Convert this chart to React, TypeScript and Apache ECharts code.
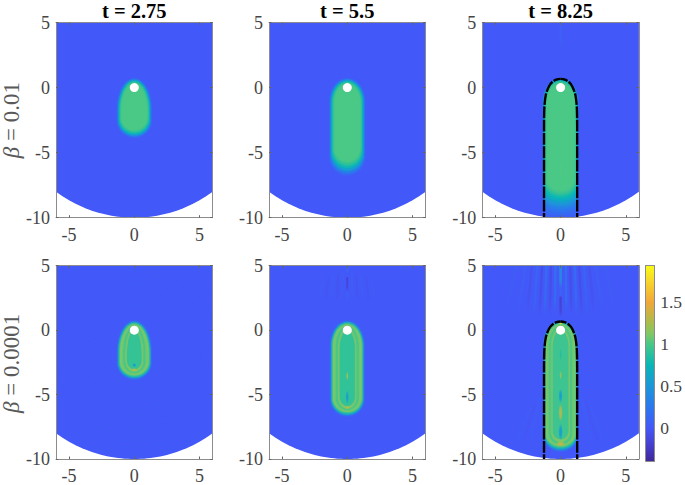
import React, { useEffect, useRef } from "react";
import * as echarts from "echarts";

const FONT = "Liberation Serif";
const titles = ["t = 2.75", "t = 5.5", "t = 8.25"];
const rowNames = ["{b|β}{n| = 0.01}", "{b|β}{n| = 0.0001}"];
const xTicks = [-5, 0, 5];
const colorbarTicks = [0, 0.5, 1, 1.5];
const domainRadius = 10;
const sourcePoint = [[0, 0]];

// colour map: value, hex
const colorStops: [number, string][] = [
  [-0.4, "#40289a"], [-0.2, "#4640d0"], [0, "#4358f8"], [0.25, "#2b78ee"], [0.5, "#1c97d8"],
  [0.75, "#0ab6b6"], [1.0, "#48c886"], [1.12, "#80c866"], [1.25, "#a8bd4c"], [1.5, "#f0a73a"], [1.75, "#f8d52c"], [1.94, "#f9fb15"],
];
const colorbarRange = [-0.4, 1.94];

// nested contours: value, half width, top y, bottom y, top cap height, bottom cap height
const ringsA = [
  [0.12, 1.3, 0.68, -3.82, 2.3, 1.25], [0.3, 1.25, 0.62, -3.74, 2.3, 1.22], [0.55, 1.2, 0.56, -3.66, 2.25, 1.18],
  [0.75, 1.14, 0.5, -3.56, 2.2, 1.14], [0.9, 1.08, 0.42, -3.44, 2.15, 1.08], [1.0, 1.0, 0.33, -3.3, 2.1, 1.0],
];
const ringsB = [
  [0.1, 1.33, 0.68, -6.75, 1.7, 1.4], [0.3, 1.28, 0.62, -6.58, 1.7, 1.35], [0.55, 1.22, 0.55, -6.38, 1.65, 1.3],
  [0.75, 1.16, 0.48, -6.18, 1.6, 1.25], [0.9, 1.09, 0.4, -5.98, 1.55, 1.2], [1.0, 1.0, 0.3, -5.75, 1.5, 1.1],
];
const ringsC = [
  [0.06, 1.27, 0.66, -10.1, 1.7, 0.4], [0.14, 1.27, 0.65, -9.8, 1.7, 0.45], [0.22, 1.26, 0.63, -9.55, 1.7, 0.5],
  [0.32, 1.26, 0.61, -9.3, 1.7, 0.55], [0.44, 1.25, 0.59, -9.1, 1.65, 0.6], [0.56, 1.24, 0.57, -8.9, 1.65, 0.7],
  [0.68, 1.22, 0.53, -8.7, 1.6, 0.75], [0.78, 1.19, 0.49, -8.5, 1.6, 0.8], [0.88, 1.15, 0.43, -8.3, 1.55, 0.85],
  [0.95, 1.11, 0.38, -8.12, 1.55, 0.9], [1.0, 1.06, 0.33, -7.95, 1.5, 0.9],
];
const ringsD = [
  [0.3, 1.26, 0.66, -3.76, 2.3, 1.2], [0.6, 1.21, 0.6, -3.68, 2.3, 1.15], [0.85, 1.16, 0.54, -3.6, 2.25, 1.1],
  [1.1, 1.1, 0.46, -3.5, 2.2, 1.05], [0.98, 0.84, 0.3, -3.32, 2.1, 0.9], [1.16, 0.66, 0.12, -3.2, 2.0, 0.8],
  [0.92, 0.55, -0.02, -3.02, 1.9, 0.68],
];
const ringsE = [
  [0.3, 1.25, 0.66, -6.62, 1.8, 1.25], [0.6, 1.2, 0.6, -6.54, 1.8, 1.2], [0.85, 1.15, 0.54, -6.46, 1.75, 1.15],
  [1.1, 1.1, 0.46, -6.36, 1.7, 1.1], [0.98, 0.86, 0.3, -6.2, 1.6, 0.95], [1.14, 0.68, 0.12, -6.06, 1.5, 0.85],
  [0.91, 0.57, -0.04, -5.88, 1.4, 0.72],
];
const ringsF = [
  [0.3, 1.25, 0.66, -9.34, 1.7, 1.1], [0.6, 1.21, 0.6, -9.24, 1.7, 1.05], [0.85, 1.17, 0.54, -9.14, 1.65, 1.0],
  [1.1, 1.12, 0.46, -9.02, 1.6, 0.95], [0.98, 0.88, 0.3, -8.84, 1.5, 0.85], [1.14, 0.7, 0.12, -8.66, 1.4, 0.75],
  [0.95, 0.59, -0.04, -8.46, 1.3, 0.62],
];

// soft spots: x, y, radius x, radius y, value
const spotsD = [[0, -2.72, 0.16, 0.16, 0.55], [0, -3.08, 0.22, 0.14, 1.3]];
const spotsE = [[0, -3.55, 0.1, 0.35, 1.2], [0, -5.2, 0.13, 0.55, 0.55], [0, -6.0, 0.25, 0.14, 1.25]];
const spotsF = [
  [0, 0.52, 0.14, 0.1, 1.7], [0, -1.9, 0.1, 0.5, 0.85], [0, -3.5, 0.1, 0.35, 1.2], [0, -5.1, 0.16, 0.55, 0.55],
  [0, -6.4, 0.17, 0.7, 1.3], [0, -7.9, 0.17, 0.65, 0.55], [0, -8.82, 0.36, 0.2, 1.35],
];
const spotsC = [[0, -6.3, 0.08, 0.6, 1.03]];

// ripple stripes: x at top, x at bottom, top y, bottom y, value, half width
const stripesCHalf = [[0, 0, 5, 3, 0.09, 0.07]];
const stripesEHalf = [
  [0.35, 0.4, 4.5, 2.4, 0.05, 0.08], [0.7, 0.8, 4.3, 2.2, -0.04, 0.08], [1.05, 1.2, 4.2, 2.2, 0.05, 0.08],
  [1.45, 1.65, 4, 2.2, -0.03, 0.08], [1.85, 2.1, 3.8, 2.4, 0.03, 0.08],
];
const stripesFHalf = [
  [0.4, 0.44, 5, 1.3, 0.2, 0.09], [0.74, 0.82, 5, 1.2, -0.1, 0.09], [1.08, 1.22, 5, 1.1, 0.18, 0.09],
  [1.42, 1.62, 5, 1.1, -0.09, 0.09], [1.78, 2.06, 5, 1.1, 0.12, 0.09], [2.2, 2.56, 5, 1.3, -0.05, 0.1],
  [2.7, 3.2, 5, 1.6, 0.06, 0.1], [3.4, 4.1, 5, 1.9, 0.04, 0.12], [1.6, 2.4, -5.2, -9, 0.05, 0.08],
  [1.95, 3.0, -5.6, -9.2, -0.02, 0.08], [2.3, 3.6, -6, -9.2, 0.03, 0.08],
];
const spikesE = [[0, 0, 5.0, 4.4, 0.16, 0.07], [0, 0, 4.1, 3.0, -0.22, 0.07], [0, 0, 3.0, 2.2, 0.08, 0.07]];
const spikesF = [[0, 0, 5.0, 3.2, 0.5, 0.1], [0, 0, 3.2, 2.6, 0.12, 0.08], [0, 0, 2.6, 1.0, -0.22, 0.09]];

// faint concentric ripples (radii) in the lower-left panel
const faintRadii = [2.0, 2.5, 3.0, 3.5, 4.0, 4.5, 5.0, 5.5, 6.0, 6.5, 7.0, 7.5, 8.0, 8.5, 9.0, 9.5];

// analytic front, half width against y
const frontProfile = [
  [1.27, -10], [1.27, -3], [1.26, -2], [1.23, -1.3], [1.14, -0.6], [1.0, -0.15], [0.8, 0.25], [0.55, 0.5], [0.3, 0.62], [0, 0.67],
];

const panelLefts = [56, 269, 482.3];
const panelTops = [22.5, 265.7];
const panelW = 156.6;
const panelH = 195.2;
const AXIS = "#8c8c8c";
const TEXT = "#454545";
const LABEL = "#5a5a5a";

function rgbOf(hex: string) {
  return [1, 3, 5].map((i) => parseInt(hex.slice(i, i + 2), 16));
}
function valueRgb(v: number) {
  const s = colorStops;
  if (v <= s[0][0]) return rgbOf(s[0][1]);
  for (let i = 1; i < s.length; i++) {
    if (v <= s[i][0]) {
      const t = (v - s[i - 1][0]) / (s[i][0] - s[i - 1][0]);
      const a = rgbOf(s[i - 1][1]);
      const b = rgbOf(s[i][1]);
      return a.map((c, k) => Math.round(c + (b[k] - c) * t));
    }
  }
  return rgbOf(s[s.length - 1][1]);
}
const valueColor = (v: number, alpha = 1) => `rgba(${valueRgb(v).join(",")},${alpha})`;

function renderDomain(_: any, api: any) {
  const pts: number[][] = [[-6, 5], [6, 5]];
  for (let x = 6; x >= -6; x -= 0.25) pts.push([x, -Math.sqrt(domainRadius * domainRadius - x * x)]);
  return { type: "polygon", shape: { points: pts.map((p) => api.coord(p)) }, style: { fill: valueColor(0) } };
}

function renderRing(_: any, api: any) {
  const [v, w, top, bottom, capT, capB] = [0, 1, 2, 3, 4, 5].map((i) => api.value(i));
  const right: number[][] = [];
  for (let a = 0; a <= 16; a++) {
    const th = (a / 16) * (Math.PI / 2);
    right.push([w * Math.sin(th), top - capT + capT * Math.cos(th)]);
  }
  for (let a = 16; a >= 0; a--) {
    const th = (a / 16) * (Math.PI / 2);
    right.push([w * Math.sin(th), bottom + capB - capB * Math.cos(th)]);
  }
  const left = right.slice().reverse().map(([x, y]) => [-x, y]);
  return {
    type: "polygon",
    shape: { points: right.concat(left).map((p) => api.coord(p)) },
    style: { fill: valueColor(v), shadowBlur: 2, shadowColor: valueColor(v) },
  };
}

function renderSpot(_: any, api: any) {
  const [x, y, rx, ry, v] = [0, 1, 2, 3, 4].map((i) => api.value(i));
  const c = api.coord([x, y]);
  const sx = Math.abs(api.coord([x + rx, y])[0] - c[0]);
  const sy = Math.abs(api.coord([x, y + ry])[1] - c[1]);
  return {
    type: "ellipse",
    shape: { cx: c[0], cy: c[1], rx: sx, ry: sy },
    style: {
      fill: new echarts.graphic.RadialGradient(0.5, 0.5, 0.5, [
        { offset: 0, color: valueColor(v, 1) },
        { offset: 0.55, color: valueColor(v, 0.75) },
        { offset: 1, color: valueColor(v, 0) },
      ]),
    },
  };
}

function renderStripe(_: any, api: any) {
  const [xt, xb, yt, yb, v, hw] = [0, 1, 2, 3, 4, 5].map((i) => api.value(i));
  const pts = [[xt - hw, yt], [xt + hw, yt], [xb + hw, yb], [xb - hw, yb]];
  return {
    type: "polygon",
    shape: { points: pts.map((p) => api.coord(p)) },
    style: {
      fill: new echarts.graphic.LinearGradient(0, 0, 0, 1, [
        { offset: 0, color: valueColor(v, 0.85) },
        { offset: 0.7, color: valueColor(v, 0.7) },
        { offset: 1, color: valueColor(v, 0) },
      ]),
    },
  };
}

function renderFaint(_: any, api: any) {
  const r = api.value(0);
  const c = api.coord([0, 0]);
  const s = Math.abs(api.coord([r, 0])[0] - c[0]);
  return {
    type: "circle",
    shape: { cx: c[0], cy: c[1], r: s },
    style: { fill: "none", stroke: valueColor(0.12, 0.22), lineWidth: 1 },
  };
}

function renderColorbar(_: any, api: any) {
  const lo = api.coord([0, colorbarRange[0]]);
  const hi = api.coord([1, colorbarRange[1]]);
  const span = colorbarRange[1] - colorbarRange[0];
  return {
    type: "rect",
    shape: { x: lo[0], y: hi[1], width: hi[0] - lo[0], height: lo[1] - hi[1] },
    style: {
      fill: new echarts.graphic.LinearGradient(
        0, 1, 0, 0,
        colorStops.map(([v, c]) => ({ offset: (v - colorbarRange[0]) / span, color: c })),
      ),
    },
  };
}

const mirror = (rows: number[][]) =>
  rows.flatMap((r) => [r, [-r[0], -r[1], r[2], r[3], r[4], r[5]]]);

const panelRings = [ringsA, ringsB, ringsC, ringsD, ringsE, ringsF];
const panelSpots: number[][][] = [[], [], spotsC, spotsD, spotsE, spotsF];
const panelStripes: number[][][] = [
  [], [], stripesCHalf, [],
  [...mirror(stripesEHalf), ...spikesE],
  [...mirror(stripesFHalf), ...spikesF],
];

function buildOption() {
  const grid: any[] = [];
  const xAxis: any[] = [];
  const yAxis: any[] = [];
  const series: any[] = [];
  const title: any[] = [];

  const boxLine = { show: true, onZero: false, lineStyle: { color: AXIS, width: 1 } };
  const tick = { show: true, inside: true, length: 2.5, lineStyle: { color: "#666", width: 1 } };

  for (let p = 0; p < 6; p++) {
    const col = p % 3;
    const row = Math.floor(p / 3);
    grid.push({ left: panelLefts[col], top: panelTops[row], width: panelW, height: panelH });
    const common = { gridIndex: p, type: "value", z: 6, splitLine: { show: false }, axisLine: boxLine };
    xAxis.push({
      ...common, min: -6, max: 6, position: "bottom",
      axisTick: { ...tick, customValues: xTicks },
      axisLabel: { customValues: xTicks, margin: 8, color: TEXT, fontFamily: FONT, fontSize: 18 },
    });
    xAxis.push({
      ...common, min: -6, max: 6, position: "top",
      axisTick: { ...tick, customValues: xTicks }, axisLabel: { show: false },
    });
    yAxis.push({
      ...common, min: -10, max: 5, interval: 5, position: "left", axisTick: tick,
      axisLabel: { margin: 6, color: TEXT, fontFamily: FONT, fontSize: 18, showMinLabel: true, showMaxLabel: true },
    });
    yAxis.push({
      ...common, min: -10, max: 5, interval: 5, position: "right", axisTick: tick, axisLabel: { show: false },
    });
    const cs = { xAxisIndex: 2 * p, yAxisIndex: 2 * p, silent: true, clip: true };
    series.push({ type: "custom", ...cs, z: 2, renderItem: renderDomain, data: [[0, 0]] });
    if (p === 3) series.push({ type: "custom", ...cs, z: 2, renderItem: renderFaint, data: faintRadii.map((r) => [r, 0]) });
    if (panelStripes[p].length)
      series.push({ type: "custom", ...cs, z: 2, renderItem: renderStripe, data: panelStripes[p] });
    series.push({ type: "custom", ...cs, z: 3, renderItem: renderRing, data: panelRings[p] });
    if (panelSpots[p].length) series.push({ type: "custom", ...cs, z: 3, renderItem: renderSpot, data: panelSpots[p] });
    if (col === 2) {
      [1, -1].forEach((sign) => {
        series.push({
          type: "line", xAxisIndex: 2 * p, yAxisIndex: 2 * p, silent: true, z: 4, smooth: 0.3, symbol: "none",
          data: frontProfile.map(([x, y]) => [sign * x, y]),
          lineStyle: { color: "#000", width: 2.4, type: [11.8, 1.5], dashOffset: 6.65 },
        });
      });
    }
    series.push({
      type: "scatter", xAxisIndex: 2 * p, yAxisIndex: 2 * p, silent: true, z: 5, symbolSize: 9,
      itemStyle: { color: "#fff", opacity: 1 }, data: sourcePoint,
    });
  }
  titles.forEach((text, i) => {
    title.push({
      text, left: panelLefts[i] + panelW / 2 - 5, top: -5, textAlign: "center",
      textStyle: { color: "#000", fontFamily: FONT, fontWeight: "bold", fontSize: 20.5 },
    });
  });

  // colour bar
  grid.push({ left: 645.7, top: panelTops[1], width: 14, height: panelH });
  xAxis.push({
    gridIndex: 6, type: "value", min: 0, max: 1, z: 6, position: "bottom",
    splitLine: { show: false }, axisTick: { show: false }, axisLabel: { show: false }, axisLine: boxLine,
  });
  xAxis.push({
    gridIndex: 6, type: "value", min: 0, max: 1, z: 6, position: "top",
    splitLine: { show: false }, axisTick: { show: false }, axisLabel: { show: false }, axisLine: boxLine,
  });
  yAxis.push({
    gridIndex: 6, type: "value", min: colorbarRange[0], max: colorbarRange[1], interval: 0.1, position: "right", z: 6,
    splitLine: { show: false }, axisLine: boxLine,
    axisTick: { show: false },
    axisLabel: {
      customValues: colorbarTicks, margin: 5.5, color: TEXT, fontFamily: FONT, fontSize: 17.5,
      formatter: (v: number) => String(v),
    },
  });
  yAxis.push({
    gridIndex: 6, type: "value", min: colorbarRange[0], max: colorbarRange[1], interval: 0.1, position: "left", z: 6,
    splitLine: { show: false }, axisLine: boxLine, axisTick: { show: false }, axisLabel: { show: false },
  });
  series.push({
    type: "custom", xAxisIndex: 12, yAxisIndex: 12, silent: true, z: 2,
    renderItem: renderColorbar, data: [[0, colorbarRange[0]]],
  });

  const graphic = rowNames.map((text, i) => ({
    type: "text",
    x: 11,
    y: panelTops[i] + panelH / 2,
    rotation: Math.PI / 2,
    silent: true,
    style: {
      text,
      align: "center",
      verticalAlign: "middle",
      rich: {
        b: { fontFamily: FONT, fontStyle: "italic", fontSize: 23, fill: LABEL, color: LABEL },
        n: { fontFamily: FONT, fontSize: 23, fill: LABEL, color: LABEL },
      },
    },
  }));

  return { animation: false, backgroundColor: "#fff", title, grid, xAxis, yAxis, series, graphic, tooltip: { show: false } };
}

export default function App() {
  const ref = useRef<HTMLDivElement>(null);
  useEffect(() => {
    document.body.style.margin = "0";
    const chart = echarts.init(ref.current!, undefined, { renderer: "svg" });
    chart.setOption(buildOption() as any);
    return () => chart.dispose();
  }, []);
  return <div ref={ref} style={{ width: 685, height: 485 }} />;
}
